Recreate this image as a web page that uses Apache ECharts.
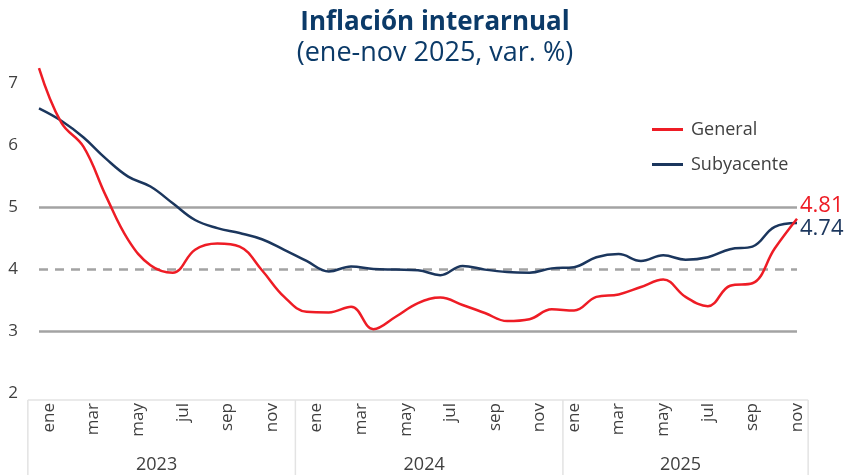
<!DOCTYPE html>
<html>
<head>
<meta charset="utf-8">
<script src="https://cdn.jsdelivr.net/npm/echarts@6/dist/echarts.min.js"></script>
<style>html,body{margin:0;padding:0;background:#fff}#c{width:847px;height:475px}</style>
</head>
<body>
<div id="c"></div>
<script>
const monthNames = ['ene','feb','mar','abr','may','jun','jul','ago','sep','oct','nov','dic'];
const years = ['2023','2024','2025'];
const monthsPerYear = [12, 12, 11];
const general = [7.24,6.36,5.97,5.18,4.47,4.06,3.94,4.31,4.41,4.36,3.98,3.55,
                 3.31,3.30,3.39,3.03,3.23,3.45,3.54,3.42,3.29,3.16,3.19,3.35,
                 3.33,3.55,3.59,3.71,3.83,3.55,3.40,3.73,3.77,4.33,4.81];
const subyacente = [6.59,6.39,6.12,5.78,5.49,5.33,5.06,4.79,4.66,4.58,4.48,4.31,
                    4.13,3.96,4.04,4.00,3.99,3.98,3.90,4.05,3.99,3.95,3.94,4.01,
                    4.03,4.19,4.24,4.13,4.22,4.15,4.19,4.32,4.36,4.68,4.74];
const yTicks = [2,3,4,5,6,7];
const refSolid = [3,5];
const refDashed = [4];

const categories = [];
years.forEach((y, yi) => {
  for (let m = 0; m < monthsPerYear[yi]; m++) categories.push(monthNames[m] + '-' + y);
});
const lastCat = categories[categories.length - 1];
const firstCat = categories[0];

const FONT = '"Open Sans", sans-serif';
const RED = '#EE1C25';
const NAVY = '#1B365D';
const GRAY = '#A3A3A3';
const LABEL = '#404040';

const refLines = refSolid.map(v => [
  {coord:[firstCat, v], lineStyle:{type:'solid', color:GRAY, width:2.5}},
  {coord:[lastCat, v]}
]).concat(refDashed.map(v => [
  {coord:[firstCat, v], lineStyle:{type:[9,7], color:GRAY, width:2.5}},
  {coord:[lastCat, v]}
]));

const chart = echarts.init(document.getElementById('c'));
chart.setOption({
  animation:false,
  title:{
    text:'Inflación interarnual',
    subtext:'(ene-nov 2025, var. %)',
    left:430, textAlign:'center', top:3, itemGap:0,
    textStyle:{fontFamily:FONT, fontWeight:'bold', fontSize:26, color:'#0B3A68', lineHeight:30},
    subtextStyle:{fontFamily:FONT, fontWeight:'normal', fontSize:27, color:'#0B3A68', lineHeight:30}
  },
  legend:{
    orient:'vertical', left:652, top:120, itemGap:16, itemWidth:31, itemHeight:3,
    icon:'rect', padding:0,
    textStyle:{fontFamily:FONT, fontSize:18, color:LABEL, lineHeight:19, padding:[0,0,0,3]},
    data:['General','Subyacente']
  },
  grid:{left:39, right:50, top:52, bottom:82, containLabel:false},
  xAxis:{
    type:'category', data:categories, boundaryGap:false,
    axisLine:{show:false}, axisTick:{show:false},
    axisLabel:{
      interval:1, rotate:90, margin:10, fontFamily:FONT, fontSize:17, color:LABEL,
      formatter: v => {
        const parts = v.split('-');
        return (parts[1] === years[years.length - 1] ? '{n|' : '{s|') + parts[0] + '}';
      },
      rich:{
        n:{fontFamily:FONT, fontSize:17, color:LABEL},
        s:{fontFamily:FONT, fontSize:17, color:LABEL, padding:[20,0,0,0]}
      }
    },
    splitLine:{show:false}
  },
  yAxis:{
    type:'value', min:2, max:7.5, interval:1,
    axisLine:{show:false}, axisTick:{show:false}, splitLine:{show:false},
    axisLabel:{margin:21, fontFamily:FONT, fontSize:17, color:LABEL,
      formatter: v => (yTicks.indexOf(v) >= 0 ? String(v) : '')}
  },
  series:[
    {
      name:'General', type:'line', data:general, smooth:0.4, symbol:'none', z:4,
      lineStyle:{color:RED, width:2.5}, itemStyle:{color:RED},
      endLabel:{show:true, distance:3, offset:[0,-13], fontFamily:FONT, fontSize:22, color:RED,
        formatter: p => Number(p.value).toFixed(2)},
      markLine:{silent:true, symbol:'none', label:{show:false}, z:1, data:refLines}
    },
    {
      name:'Subyacente', type:'line', data:subyacente, smooth:0.4, symbol:'none', z:3,
      lineStyle:{color:NAVY, width:2.5}, itemStyle:{color:NAVY},
      endLabel:{show:true, distance:3, offset:[0,6], fontFamily:FONT, fontSize:22, color:NAVY,
        formatter: p => Number(p.value).toFixed(2)}
    }
  ]
});

// Year group box derived from the axis scales
const px = i => chart.convertToPixel({xAxisIndex:0}, i);
const step = px(1) - px(0);
const yBase = chart.convertToPixel({yAxisIndex:0}, 2);
const boxTop = yBase + 7;
const boxBottom = 475;
const lineColor = '#E3E3E3';
const elements = [];
const xLeft = px(0) - step / 2;
const xRight = px(categories.length - 1) + step / 2;
elements.push({type:'line', shape:{x1:xLeft, y1:boxTop, x2:xRight, y2:boxTop}, style:{stroke:lineColor, lineWidth:1.5}});
let start = 0;
const bounds = [xLeft];
years.forEach((y, yi) => {
  const end = start + monthsPerYear[yi] - 1;
  const a = px(start) - step / 2, b = px(end) + step / 2;
  bounds.push(b);
  elements.push({type:'text', x:(a + b) / 2 - 5, y:465,
    style:{text:y, fontFamily:FONT, fontSize:18, fill:LABEL, align:'center', verticalAlign:'middle'}});
  start = end + 1;
});
bounds.forEach(x => elements.push({type:'line', shape:{x1:x, y1:boxTop, x2:x, y2:boxBottom}, style:{stroke:lineColor, lineWidth:1.5}}));
chart.setOption({graphic:elements});
</script>
</body>
</html>
